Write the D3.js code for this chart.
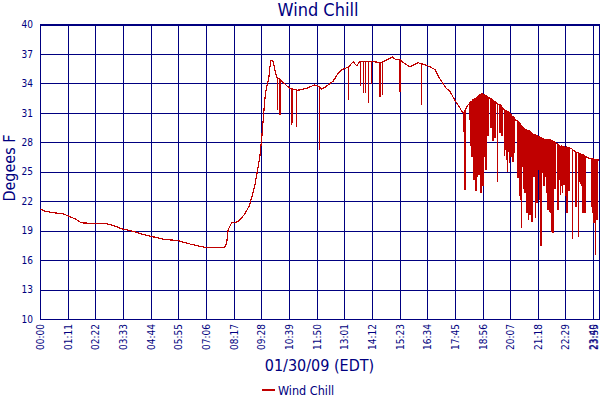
<!DOCTYPE html>
<html>
<head>
<meta charset="utf-8">
<script src="https://cdn.jsdelivr.net/npm/d3@7"></script>
<style>
  body { margin: 0; background: #fff; }
  text { font-family: "DejaVu Sans Condensed", "DejaVu Sans", sans-serif; font-stretch: condensed; fill: #000080; }
</style>
</head>
<body>
<svg id="chart" width="600" height="400"></svg>
<script>
// tick labels
const timeTicks = ["00:00", "01:11", "02:22", "03:33", "04:44", "05:55", "07:06", "08:17", "09:28",
  "10:39", "11:50", "13:01", "14:12", "15:23", "16:34", "17:45", "18:56", "20:07", "21:18",
  "22:29", "23:40", "23:55"];
const degreeTicks = [10, 13, 16, 19, 22, 25, 28, 31, 34, 37, 40];

// upper curve: [minutes after midnight, deg F]
const envelope = [
  [0, 21.2], [12, 21.0], [25, 20.9], [40, 20.8], [60, 20.7], [72, 20.5], [90, 20.2], [106, 19.8],
  [130, 19.75], [166, 19.75], [190, 19.5], [209, 19.2], [243, 18.9], [265, 18.6], [286, 18.4],
  [300, 18.3], [320, 18.1], [354, 18.0], [370, 17.8], [389, 17.6], [423, 17.3], [450, 17.3],
  [474, 17.3], [479, 17.7], [483, 19.1], [492, 19.8], [508, 19.9], [526, 20.7], [538, 21.6],
  [551, 23.5], [559, 25.3], [564, 26.4], [569, 28.3], [573, 30.3], [577, 32.3], [581, 33.5],
  [587, 34.4], [592, 36.3], [598, 36.3], [603, 35.4], [608, 34.6], [616, 34.4], [624, 34.1],
  [641, 33.5], [649, 33.4], [658, 33.35], [662, 33.3], [684, 33.5], [705, 33.85], [714, 33.7],
  [723, 33.4], [735, 33.7], [752, 34.2], [765, 35.0], [774, 35.4], [791, 35.65], [804, 36.2],
  [813, 35.8], [821, 36.2], [840, 36.2], [860, 36.2], [872, 36.1], [890, 36.4], [905, 36.7],
  [914, 36.4], [924, 36.4], [937, 36.0], [949, 35.7], [971, 36.1], [979, 36.0], [988, 35.9],
  [1001, 35.7], [1014, 35.4], [1026, 34.5], [1043, 33.5], [1052, 33.2], [1065, 32.3],
  [1078, 31.5], [1085, 31.0], [1096, 31.65], [1103, 32.0], [1160, 32.4], [1170, 32.1],
  [1180, 31.8], [1190, 31.4], [1222, 30.25], [1320, 28.0], [1327, 27.85], [1362, 27.4],
  [1368, 27.2], [1378, 27.0], [1405, 26.45], [1412, 26.35], [1435, 26.2]
];

// sudden drops: [minutes, reading before, low reading]
const dips = [
  [609, 34.6, 31.3], [616, 34.4, 30.8], [646, 33.5, 29.8], [648, 33.45, 30.0], [658, 33.35, 29.6],
  [718, 33.6, 27.2], [791, 35.65, 32.3], [823, 36.2, 33.7], [831, 36.2, 33.0], [836, 36.2, 33.0],
  [844, 36.2, 32.0], [851, 36.2, 33.9], [873, 36.1, 32.65], [880, 36.2, 32.8], [924, 36.4, 33.1],
  [979, 36.0, 31.8],
  [1088, 31.0, 29.1], [1091, 31.2, 23.15],
  [1104, 32.0, 30.3], [1106, 32.1, 27.6], [1109, 32.2, 26.55], [1111, 32.3, 27.2], [1114, 32.35, 24.2],
  [1116, 32.4, 26.9], [1119, 32.5, 23.0], [1122, 32.6, 27.9], [1124, 32.7, 24.5], [1127, 32.75, 24.7],
  [1129, 32.85, 25.2], [1132, 32.9, 22.8], [1134, 32.95, 28.25], [1137, 32.9, 23.5], [1140, 32.85, 26.55],
  [1142, 32.8, 27.2], [1145, 32.75, 25.2], [1147, 32.7, 26.9], [1150, 32.6, 28.6], [1152, 32.55, 28.9],
  [1158, 32.45, 29.5], [1163, 32.3, 28.1], [1168, 32.1, 28.4], [1175, 31.9, 24.0], [1181, 31.8, 28.9],
  [1186, 31.6, 28.6],
  [1193, 31.3, 26.6], [1196, 31.2, 27.2], [1199, 31.15, 26.2], [1201, 31.1, 25.0], [1204, 31.0, 27.0],
  [1206, 30.9, 25.9], [1209, 30.8, 26.5], [1211, 30.7, 27.4], [1214, 30.6, 26.0], [1217, 30.5, 26.9],
  [1219, 30.4, 27.5], [1227, 30.1, 24.35],
  [1232, 29.9, 22.5], [1235, 29.75, 22.1], [1237, 29.6, 19.25], [1240, 29.5, 25.5], [1242, 29.4, 23.2],
  [1245, 29.3, 22.8], [1247, 29.3, 22.8], [1250, 29.25, 20.8], [1253, 29.2, 20.1], [1255, 29.15, 21.1],
  [1258, 29.1, 20.6], [1260, 29.0, 21.8], [1263, 28.9, 19.9], [1265, 28.85, 23.5], [1268, 28.8, 24.5],
  [1271, 28.75, 23.5], [1273, 28.7, 20.3], [1276, 28.65, 21.8], [1278, 28.6, 22.5], [1281, 28.55, 25.2],
  [1283, 28.5, 22.1], [1286, 28.45, 17.4],
  [1291, 28.35, 24.85], [1294, 28.3, 23.5], [1296, 28.3, 24.0], [1299, 28.3, 24.5], [1301, 28.3, 22.8],
  [1304, 28.25, 21.1], [1307, 28.25, 20.95], [1309, 28.25, 22.1], [1312, 28.2, 20.8], [1314, 28.15, 18.9],
  [1317, 28.1, 18.75], [1322, 28.0, 23.2],
  [1330, 27.75, 21.1], [1332, 27.7, 21.6], [1335, 27.6, 24.2], [1337, 27.6, 22.65], [1340, 27.6, 23.5],
  [1342, 27.55, 22.8], [1345, 27.55, 23.7], [1348, 27.5, 23.3], [1350, 27.5, 22.5], [1353, 27.5, 20.8],
  [1355, 27.45, 22.65], [1358, 27.45, 23.0],
  [1366, 27.3, 18.1], [1376, 27.0, 21.4], [1382, 26.9, 18.4],
  [1386, 26.8, 24.0], [1389, 26.75, 23.8], [1391, 26.7, 23.5], [1394, 26.7, 20.8], [1396, 26.65, 22.1],
  [1399, 26.6, 20.8],
  [1417, 26.3, 21.45], [1419, 26.3, 20.8], [1422, 26.28, 19.8], [1425, 26.27, 16.5], [1427, 26.25, 20.3],
  [1430, 26.22, 20.1], [1432, 26.2, 20.1]
];

const navy = "#000080";
const lineColor = "#c00000";

const svg = d3.select("#chart");
const plotLeft = 40, plotRight = 599, plotTop = 24.5, plotBottom = 319;

const toMinutes = (s) => +s.slice(0, 2) * 60 + +s.slice(3);

const x = d3.scaleLinear()
  .domain([0, toMinutes(timeTicks[timeTicks.length - 1])])
  .range([plotLeft, plotRight]);
const y = d3.scaleLinear().domain([10, 40]).range([plotBottom, plotTop]);

// grid + axes
const xAxis = d3.axisBottom(x)
  .tickValues(timeTicks.map(toMinutes))
  .tickFormat((d, i) => timeTicks[i])
  .tickSize(-(plotBottom - plotTop));
const gx = svg.append("g")
  .attr("transform", `translate(0,${plotBottom})`)
  .call(xAxis);

const yAxis = d3.axisLeft(y)
  .tickValues(degreeTicks)
  .tickSize(-(plotRight - plotLeft))
  .tickPadding(7);
const gy = svg.append("g")
  .attr("transform", `translate(${plotLeft},0)`)
  .call(yAxis);

[gx, gy].forEach((g) => {
  g.attr("font-family", null).attr("font-size", null);
  g.select(".domain").remove();
  g.selectAll(".tick line")
    .attr("stroke", navy)
    .attr("stroke-width", 1)
    .attr("shape-rendering", "crispEdges");
  g.selectAll(".tick text").style("font-size", "10px").attr("fill", navy);
});

// last label squeezed against the right edge, as in the original
gx.selectAll(".tick text")
  .attr("transform", "rotate(-90)")
  .attr("text-anchor", "end")
  .attr("x", -5)
  .attr("y", 0)
  .attr("dy", (d, i) => (i === timeTicks.length - 1 ? "-0.2em" : "0.35em"));

svg.append("rect")
  .attr("x", plotLeft)
  .attr("y", plotTop)
  .attr("width", plotRight - plotLeft)
  .attr("height", plotBottom - plotTop)
  .attr("fill", "none")
  .attr("stroke", navy)
  .attr("shape-rendering", "crispEdges");

// series: curve plus the sharp drops
const points = envelope.map(([t, v]) => ({ t, v }));
dips.forEach(([t, hi, lo]) => {
  points.push({ t, v: hi }, { t, v: lo }, { t, v: hi });
});
points.sort((a, b) => a.t - b.t);

const line = d3.line()
  .x((d) => x(d.t))
  .y((d) => y(d.v));

svg.append("path")
  .datum(points)
  .attr("fill", "none")
  .attr("stroke", lineColor)
  .attr("stroke-width", 1.2)
  .attr("shape-rendering", "crispEdges")
  .attr("d", line);

// titles
svg.append("text")
  .attr("x", 318)
  .attr("y", 16)
  .attr("text-anchor", "middle")
  .style("font-size", "18px")
  .text("Wind Chill");

svg.append("text")
  .attr("transform", "translate(15,168) rotate(-90)")
  .attr("text-anchor", "middle")
  .style("font-size", "16px")
  .text("Degees F");

svg.append("text")
  .attr("x", (plotLeft + plotRight) / 2)
  .attr("y", 371)
  .attr("text-anchor", "middle")
  .style("font-size", "16px")
  .text("01/30/09 (EDT)");

// legend
svg.append("line")
  .attr("x1", 262)
  .attr("x2", 275)
  .attr("y1", 390)
  .attr("y2", 390)
  .attr("stroke", lineColor)
  .attr("stroke-width", 2);
svg.append("text")
  .attr("x", 278)
  .attr("y", 395)
  .style("font-size", "12.5px")
  .text("Wind Chill");
</script>
</body>
</html>
